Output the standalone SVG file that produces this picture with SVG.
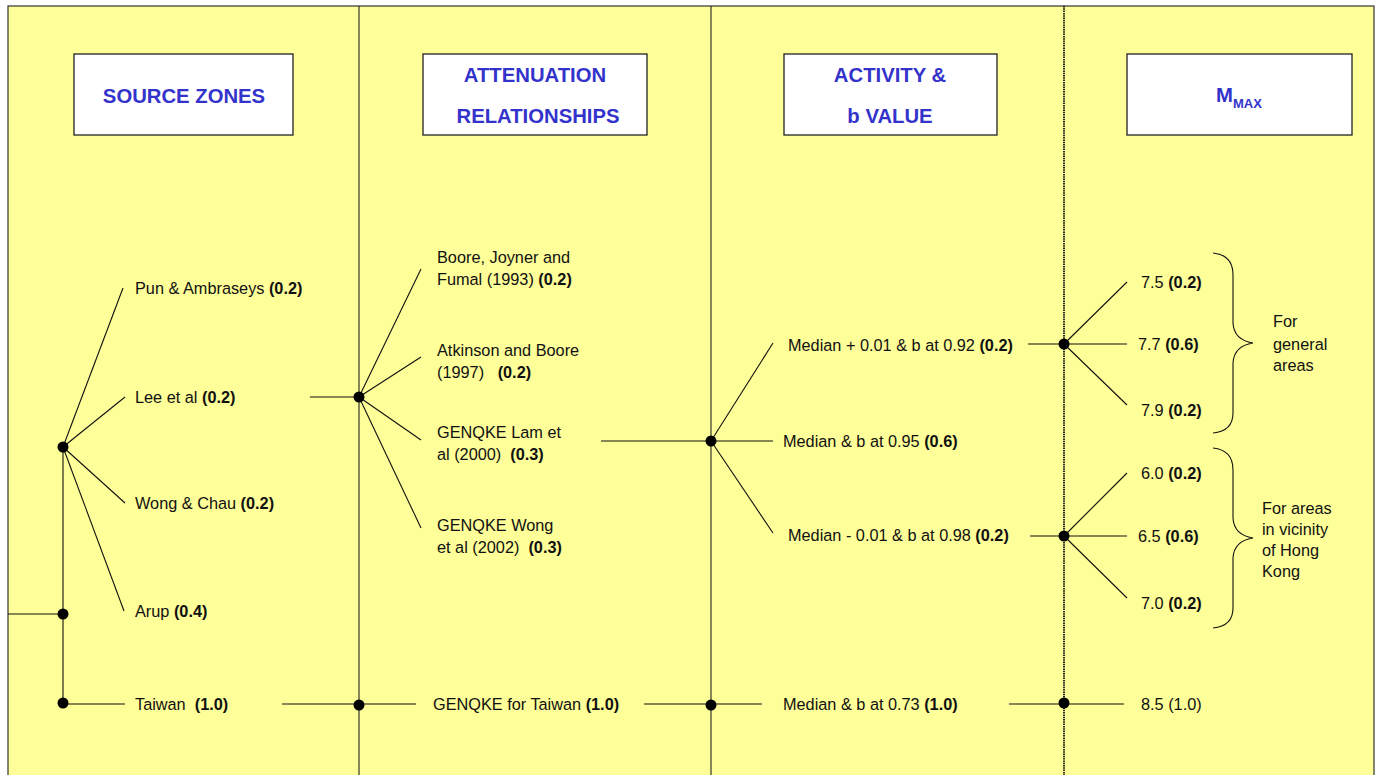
<svg xmlns="http://www.w3.org/2000/svg" width="1382" height="775" viewBox="0 0 1382 775">
<style>
.bg{fill:#FFFF99;stroke:#333;stroke-width:1.2}
.hdr{fill:#fff;stroke:#222;stroke-width:1.3}
.ht{font-family:"Liberation Sans",Arial,sans-serif;font-weight:bold;font-size:20.3px;fill:#3333CC;text-anchor:middle}
.t{font-family:"Liberation Sans",Arial,sans-serif;font-size:16.3px;fill:#111}
.b{font-weight:bold}
.ln{stroke:#111;stroke-width:1.1;fill:none}
.col{stroke:#222;stroke-width:1.1}
.dot{fill:#000}
</style>
<rect class="bg" x="8" y="6" width="1366" height="775"/>
<g id="columns">
<line class="col" x1="359" y1="6" x2="359" y2="775"/>
<line class="col" x1="711" y1="6" x2="711" y2="775"/>
<line x1="1064" y1="6" x2="1064" y2="775" stroke="#111" stroke-width="1.8" stroke-dasharray="1.5 0.8"/>
</g>
<g id="header-source">
<rect class="hdr" x="74" y="54" width="219" height="81"/>
<text class="ht" x="184" y="103">SOURCE ZONES</text>
</g>
<g id="header-attenuation">
<rect class="hdr" x="423" y="54" width="224" height="81"/>
<text class="ht" x="535" y="82">ATTENUATION</text>
<text class="ht" x="538" y="123">RELATIONSHIPS</text>
</g>
<g id="header-activity">
<rect class="hdr" x="784" y="54" width="213" height="81"/>
<text class="ht" x="890" y="82">ACTIVITY &amp;</text>
<text class="ht" x="890" y="123">b VALUE</text>
</g>
<g id="header-mmax">
<rect class="hdr" x="1127" y="54" width="225" height="81"/>
<text class="ht" x="1239" y="102">M<tspan font-size="13" dy="6">MAX</tspan></text>
</g>
<g id="connectors">
<line class="ln" x1="8" y1="614" x2="63" y2="614"/>
<line class="ln" x1="63" y1="447" x2="63" y2="704"/>
<line class="ln" x1="63" y1="447" x2="123" y2="288"/>
<line class="ln" x1="63" y1="447" x2="125" y2="397"/>
<line class="ln" x1="63" y1="447" x2="125" y2="503"/>
<line class="ln" x1="63" y1="447" x2="124" y2="611"/>
<line class="ln" x1="63" y1="704" x2="125" y2="704"/>
<line class="ln" x1="282" y1="704" x2="359" y2="704"/>
<line class="ln" x1="310" y1="397" x2="359" y2="397"/>
<line class="ln" x1="359" y1="397" x2="421" y2="269"/>
<line class="ln" x1="359" y1="397" x2="421" y2="357"/>
<line class="ln" x1="359" y1="397" x2="421" y2="440"/>
<line class="ln" x1="359" y1="397" x2="421" y2="528"/>
<line class="ln" x1="359" y1="704" x2="416" y2="704"/>
<line class="ln" x1="644" y1="704" x2="711" y2="704"/>
<line class="ln" x1="601" y1="441" x2="711" y2="441"/>
<line class="ln" x1="711" y1="441" x2="773" y2="343"/>
<line class="ln" x1="711" y1="441" x2="773" y2="441"/>
<line class="ln" x1="711" y1="441" x2="773" y2="533"/>
<line class="ln" x1="711" y1="704" x2="762" y2="704"/>
<line class="ln" x1="1028" y1="344" x2="1064" y2="344"/>
<line class="ln" x1="1030" y1="536" x2="1064" y2="536"/>
<line class="ln" x1="1009" y1="704" x2="1064" y2="704"/>
<line class="ln" x1="1064" y1="344" x2="1127" y2="282"/>
<line class="ln" x1="1064" y1="344" x2="1127" y2="344"/>
<line class="ln" x1="1064" y1="344" x2="1127" y2="405"/>
<line class="ln" x1="1064" y1="536" x2="1127" y2="473"/>
<line class="ln" x1="1064" y1="536" x2="1127" y2="536"/>
<line class="ln" x1="1064" y1="536" x2="1127" y2="598"/>
<line class="ln" x1="1064" y1="704" x2="1124" y2="704"/>
<path class="ln" d="M1213,253 Q1233,255 1233,275 L1233,323 Q1234,340 1253,343 Q1234,346 1233,363 L1233,413 Q1233,431 1213,433"/>
<path class="ln" d="M1213,448 Q1233,450 1233,470 L1233,518 Q1234,535 1253,538 Q1234,541 1233,558 L1233,608 Q1233,626 1213,628"/>
</g>
<g id="dots">
<circle class="dot" cx="63" cy="447" r="5.5"/>
<circle class="dot" cx="63" cy="614" r="5.5"/>
<circle class="dot" cx="63" cy="703" r="5.5"/>
<circle class="dot" cx="359" cy="397" r="5.5"/>
<circle class="dot" cx="359" cy="705" r="5.5"/>
<circle class="dot" cx="711" cy="441" r="5.5"/>
<circle class="dot" cx="711" cy="705" r="5.5"/>
<circle class="dot" cx="1064" cy="344" r="5.5"/>
<circle class="dot" cx="1064" cy="536" r="5.5"/>
<circle class="dot" cx="1064" cy="703" r="5.5"/>
</g>
<g id="source-zones">
<text class="t" x="135" y="294">Pun &amp; Ambraseys <tspan class="b">(0.2)</tspan></text>
<text class="t" x="135" y="403">Lee et al <tspan class="b">(0.2)</tspan></text>
<text class="t" x="135" y="509">Wong &amp; Chau <tspan class="b">(0.2)</tspan></text>
<text class="t" x="135" y="617">Arup <tspan class="b">(0.4)</tspan></text>
<text class="t" x="135" y="710" xml:space="preserve">Taiwan  <tspan class="b">(1.0)</tspan></text>
</g>
<g id="attenuation">
<text class="t" x="437" y="263">Boore, Joyner and</text>
<text class="t" x="437" y="285">Fumal (1993) <tspan class="b">(0.2)</tspan></text>
<text class="t" x="437" y="356">Atkinson and Boore</text>
<text class="t" x="437" y="378" xml:space="preserve">(1997)   <tspan class="b">(0.2)</tspan></text>
<text class="t" x="437" y="438">GENQKE Lam et</text>
<text class="t" x="437" y="460" xml:space="preserve">al (2000)  <tspan class="b">(0.3)</tspan></text>
<text class="t" x="437" y="531">GENQKE Wong</text>
<text class="t" x="437" y="553" xml:space="preserve">et al (2002)  <tspan class="b">(0.3)</tspan></text>
<text class="t" x="433" y="710">GENQKE for Taiwan <tspan class="b">(1.0)</tspan></text>
</g>
<g id="activity">
<text class="t" x="788" y="351">Median + 0.01 &amp; b at 0.92 <tspan class="b">(0.2)</tspan></text>
<text class="t" x="783" y="447">Median &amp; b at 0.95 <tspan class="b">(0.6)</tspan></text>
<text class="t" x="788" y="541">Median - 0.01 &amp; b at 0.98 <tspan class="b">(0.2)</tspan></text>
<text class="t" x="783" y="710">Median &amp; b at 0.73 <tspan class="b">(1.0)</tspan></text>
</g>
<g id="mmax">
<text class="t" x="1141" y="288">7.5 <tspan class="b">(0.2)</tspan></text>
<text class="t" x="1138" y="350">7.7 <tspan class="b">(0.6)</tspan></text>
<text class="t" x="1141" y="416">7.9 <tspan class="b">(0.2)</tspan></text>
<text class="t" x="1141" y="479">6.0 <tspan class="b">(0.2)</tspan></text>
<text class="t" x="1138" y="542">6.5 <tspan class="b">(0.6)</tspan></text>
<text class="t" x="1141" y="609">7.0 <tspan class="b">(0.2)</tspan></text>
<text class="t" x="1141" y="710">8.5 (1.0)</text>
</g>
<g id="brace-labels">
<text class="t" x="1273" y="327">For</text>
<text class="t" x="1273" y="350">general</text>
<text class="t" x="1273" y="371">areas</text>
<text class="t" x="1262" y="514">For areas</text>
<text class="t" x="1262" y="535">in vicinity</text>
<text class="t" x="1262" y="556">of Hong</text>
<text class="t" x="1262" y="577">Kong</text>
</g>
</svg>
